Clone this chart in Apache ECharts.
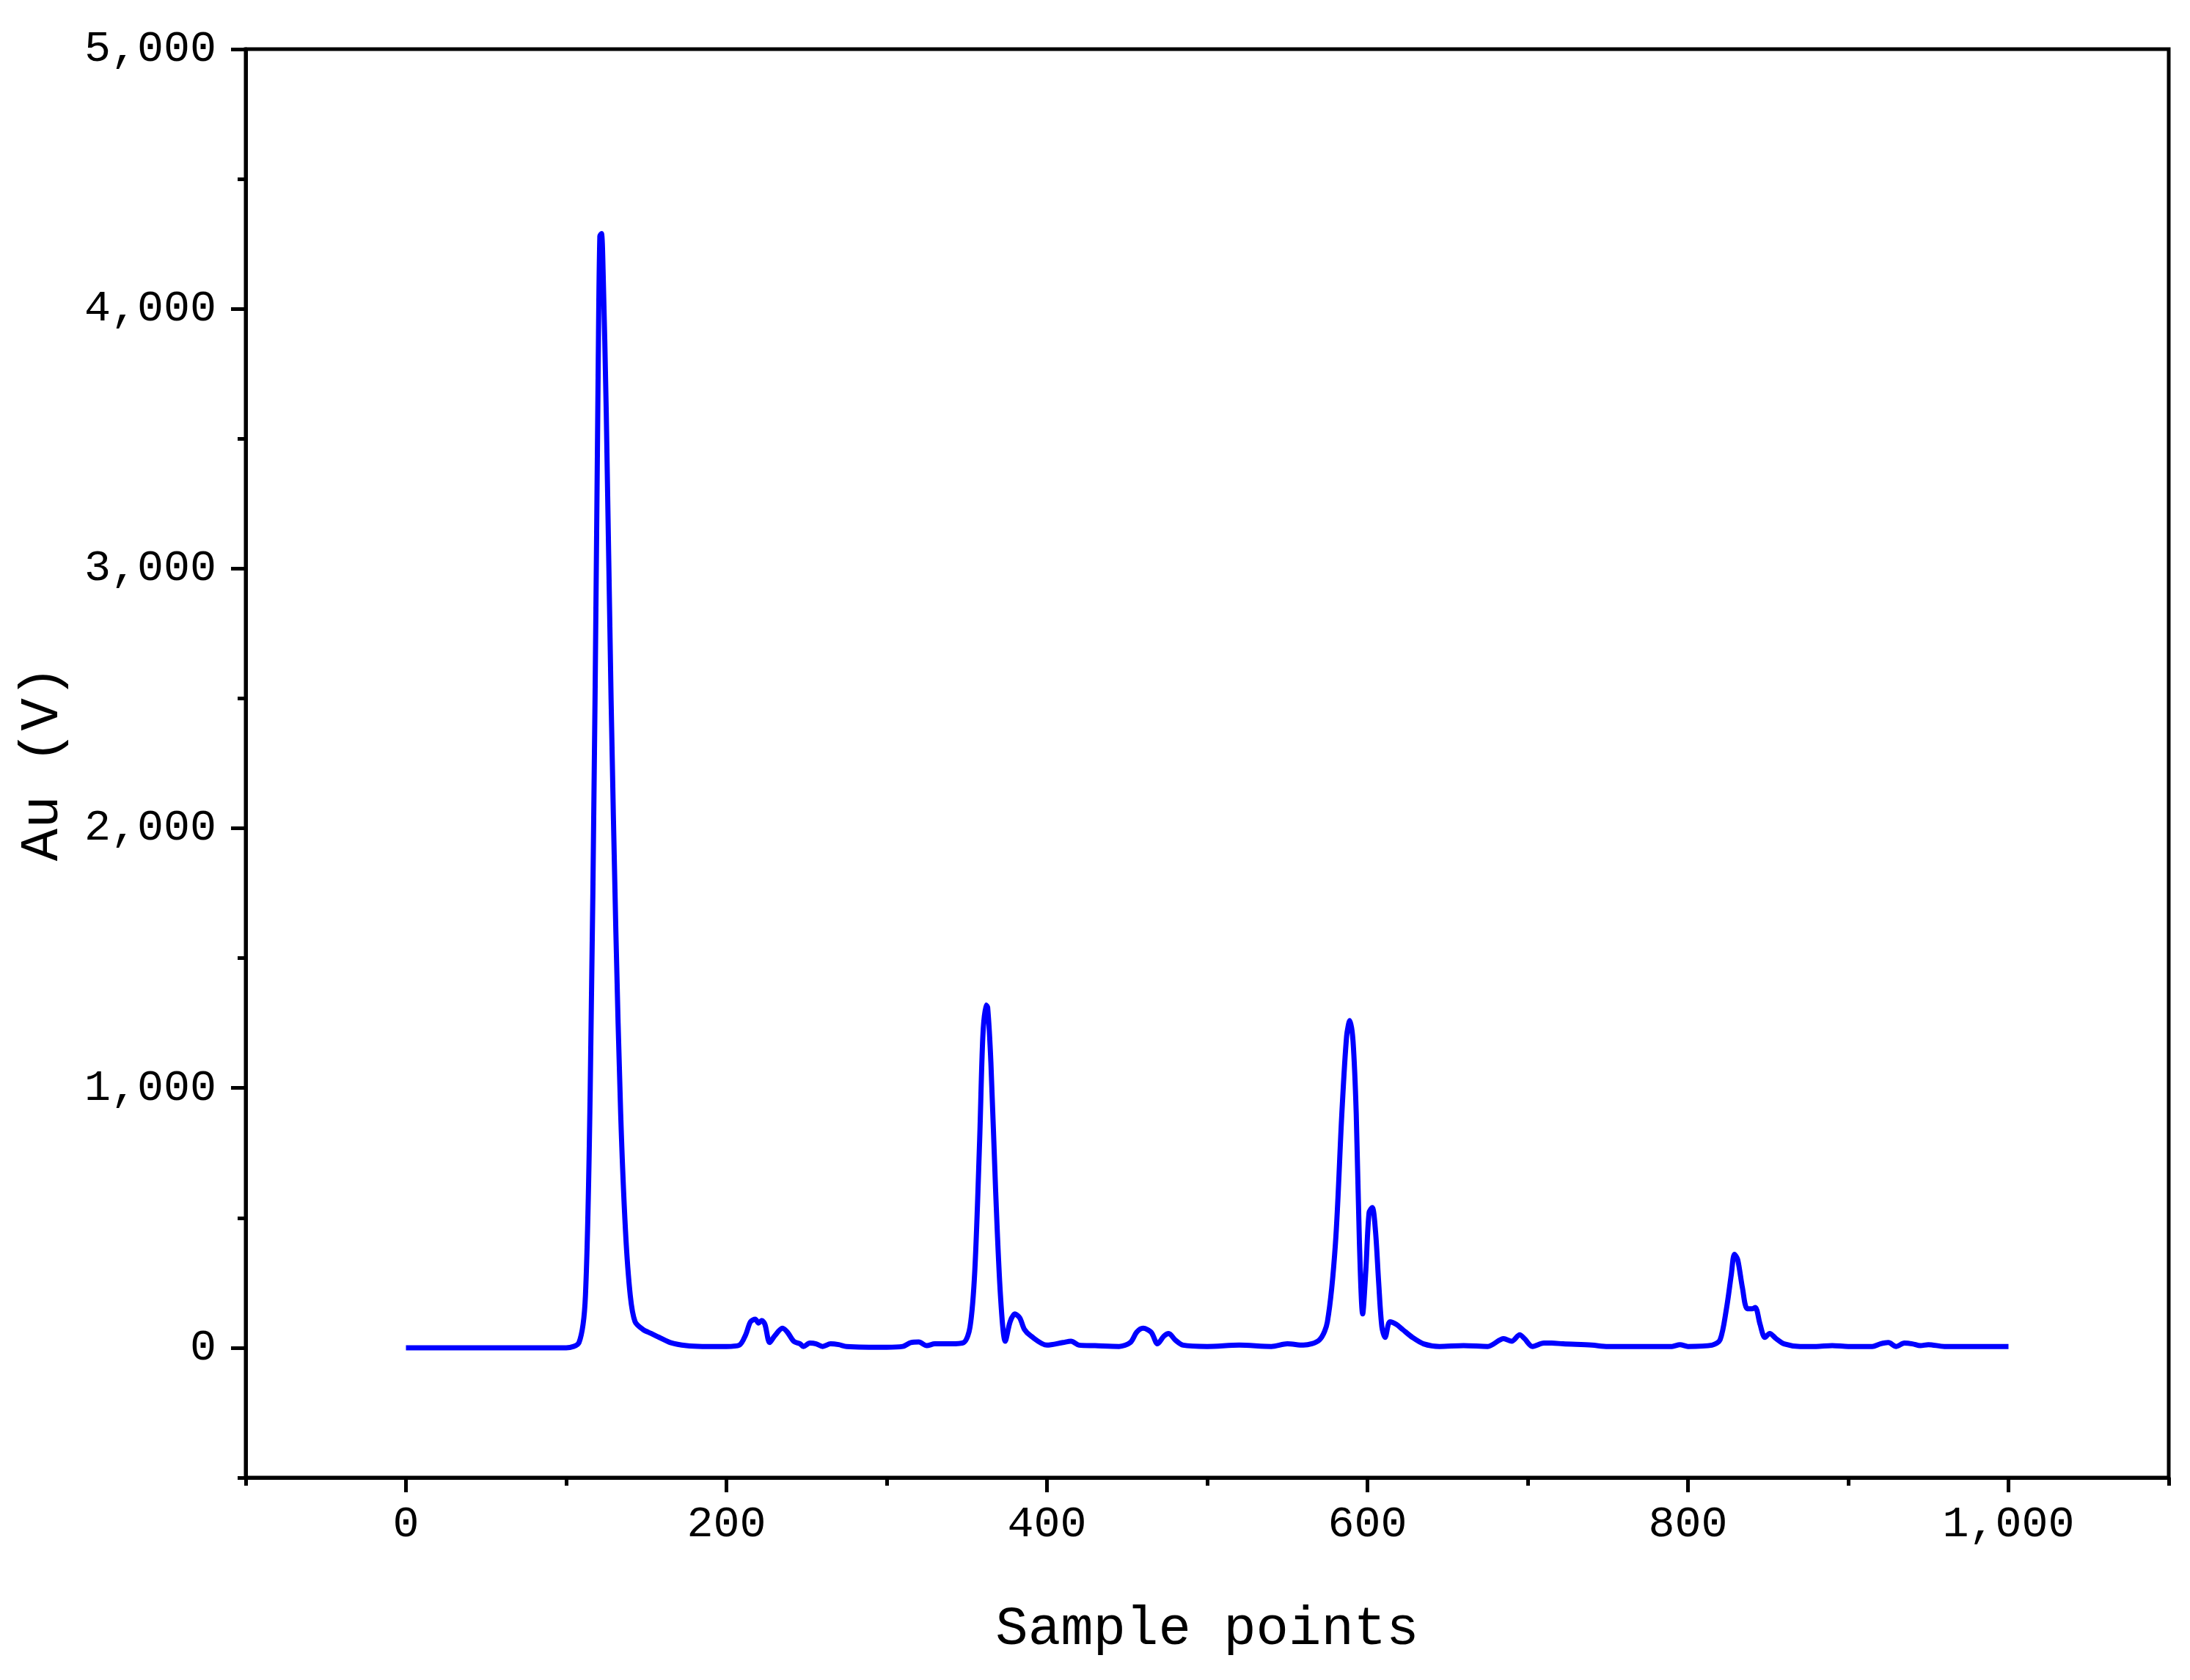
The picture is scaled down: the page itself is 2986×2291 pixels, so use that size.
<!DOCTYPE html>
<html>
<head>
<meta charset="utf-8">
<script src="https://cdn.jsdelivr.net/npm/echarts@6/dist/echarts.min.js"></script>
<style>
    html, body { margin: 0; padding: 0; background: #fff; }
    #chart { width: 2986px; height: 2291px; }
</style>
</head>
<body>
<div id="chart"></div>
<script>
    // 采样点及对应幅值
    var sampleX = [0, 100, 108, 112, 115, 118, 120, 121, 122, 123, 125, 128, 131, 134, 137, 140, 143, 148, 153, 158, 165, 175, 185, 200,
        208, 212, 215, 218, 220, 222, 224, 227, 230, 235, 238, 242, 246, 248, 252, 256, 260, 265, 270, 275, 300, 310, 315, 320, 325, 330, 340,
        348, 352, 355, 358, 360, 362, 363, 365, 368, 371, 374, 377, 380, 383, 386, 390, 400, 410, 415, 420, 430, 445, 452, 456, 460, 465, 469,
        473, 476, 480, 485, 500, 520, 540, 550, 560, 570, 575, 580, 584, 587, 589, 591, 593, 595, 597, 599, 601, 603, 605, 607, 609, 611, 614,
        618, 622, 628, 635, 645, 660, 675, 685, 690, 695, 698, 703, 710, 715, 722, 740, 750, 790, 795, 800, 815, 820, 824, 827, 829, 831, 834,
        837, 840, 842, 845, 848, 851, 855, 860, 870, 880, 890, 900, 915, 920, 925, 930, 935, 940, 945, 950, 960, 1000];
    var auValues = [0, 0, 20, 200, 1000, 2500, 3800, 4280, 4290, 4150, 3600, 2500, 1600, 900, 450, 200, 100, 70, 55, 40, 20, 8, 5, 5,
        10, 50, 100, 110, 95, 105, 90, 20, 45, 75, 60, 25, 15, 5, 18, 15, 5, 15, 12, 5, 2, 5, 20, 22, 8, 15, 15,
        20, 80, 300, 800, 1200, 1320, 1310, 1100, 600, 200, 25, 100, 130, 115, 70, 45, 10, 20, 25, 10, 8, 5, 20, 60, 75, 60, 15,
        45, 55, 30, 10, 5, 10, 5, 15, 10, 30, 100, 400, 900, 1200, 1260, 1180, 900, 400, 130, 300, 520, 540, 450, 250, 80, 40, 100,
        90, 70, 40, 15, 5, 8, 5, 35, 25, 50, 35, 5, 18, 18, 15, 10, 5, 5, 12, 5, 10, 30, 150, 280, 360, 340, 230,
        150, 150, 155, 90, 40, 55, 35, 15, 5, 5, 8, 5, 5, 15, 20, 5, 18, 15, 8, 12, 5, 5];
    var xMajorTicks = [0, 200, 400, 600, 800, 1000];
    var xMinorTicks = [-100, 100, 300, 500, 700, 900, 1100];
    var yMajorTicks = [0, 1000, 2000, 3000, 4000, 5000];
    var yMinorTicks = [-500, 500, 1500, 2500, 3500, 4500];

    var fontFamily = 'Liberation Mono';
    var fmt = function (v) { return echarts.format.addCommas(v); };
    var lineStyle = { color: '#000', width: 5 };

    var myChart = echarts.init(document.getElementById('chart'));
    var option = {
        animation: false,
        backgroundColor: '#fff',
        textStyle: { fontFamily: fontFamily, color: '#000' },
        grid: {
            left: 335, right: 29, top: 67, bottom: 276,
            show: true, borderColor: '#000', borderWidth: 5
        },
        xAxis: [{
            type: 'value', min: -100, max: 1100,
            name: 'Sample points', nameLocation: 'middle', nameGap: 170,
            nameTextStyle: { fontSize: 74, fontFamily: fontFamily, color: '#000' },
            axisLine: { onZero: false, lineStyle: lineStyle },
            axisTick: { customValues: xMajorTicks, length: 20, lineStyle: lineStyle },
            axisLabel: { customValues: xMajorTicks, formatter: fmt, fontSize: 60, margin: 34, color: '#000' },
            splitLine: { show: false }
        }, {
            type: 'value', min: -100, max: 1100, position: 'bottom',
            axisLine: { show: false, onZero: false },
            axisTick: { customValues: xMinorTicks, length: 11, lineStyle: lineStyle },
            axisLabel: { show: false },
            splitLine: { show: false }
        }],
        yAxis: [{
            type: 'value', min: -500, max: 5000,
            name: 'Au (V)', nameLocation: 'middle', nameGap: 240,
            nameTextStyle: { fontSize: 74, fontFamily: fontFamily, color: '#000' },
            axisLine: { show: true, onZero: false, lineStyle: lineStyle },
            axisTick: { customValues: yMajorTicks, length: 20, lineStyle: lineStyle },
            axisLabel: { customValues: yMajorTicks, formatter: fmt, fontSize: 60, margin: 40, color: '#000' },
            splitLine: { show: false }
        }, {
            type: 'value', min: -500, max: 5000, position: 'left',
            axisLine: { show: false, onZero: false },
            axisTick: { customValues: yMinorTicks, length: 11, lineStyle: lineStyle },
            axisLabel: { show: false },
            splitLine: { show: false }
        }],
        series: [{
            type: 'line',
            data: sampleX.map(function (x, i) { return [x, auValues[i]]; }),
            showSymbol: false,
            smooth: 0.3,
            lineStyle: { color: '#0000ff', width: 7 }
        }]
    };
    myChart.setOption(option);
</script>
</body>
</html>
